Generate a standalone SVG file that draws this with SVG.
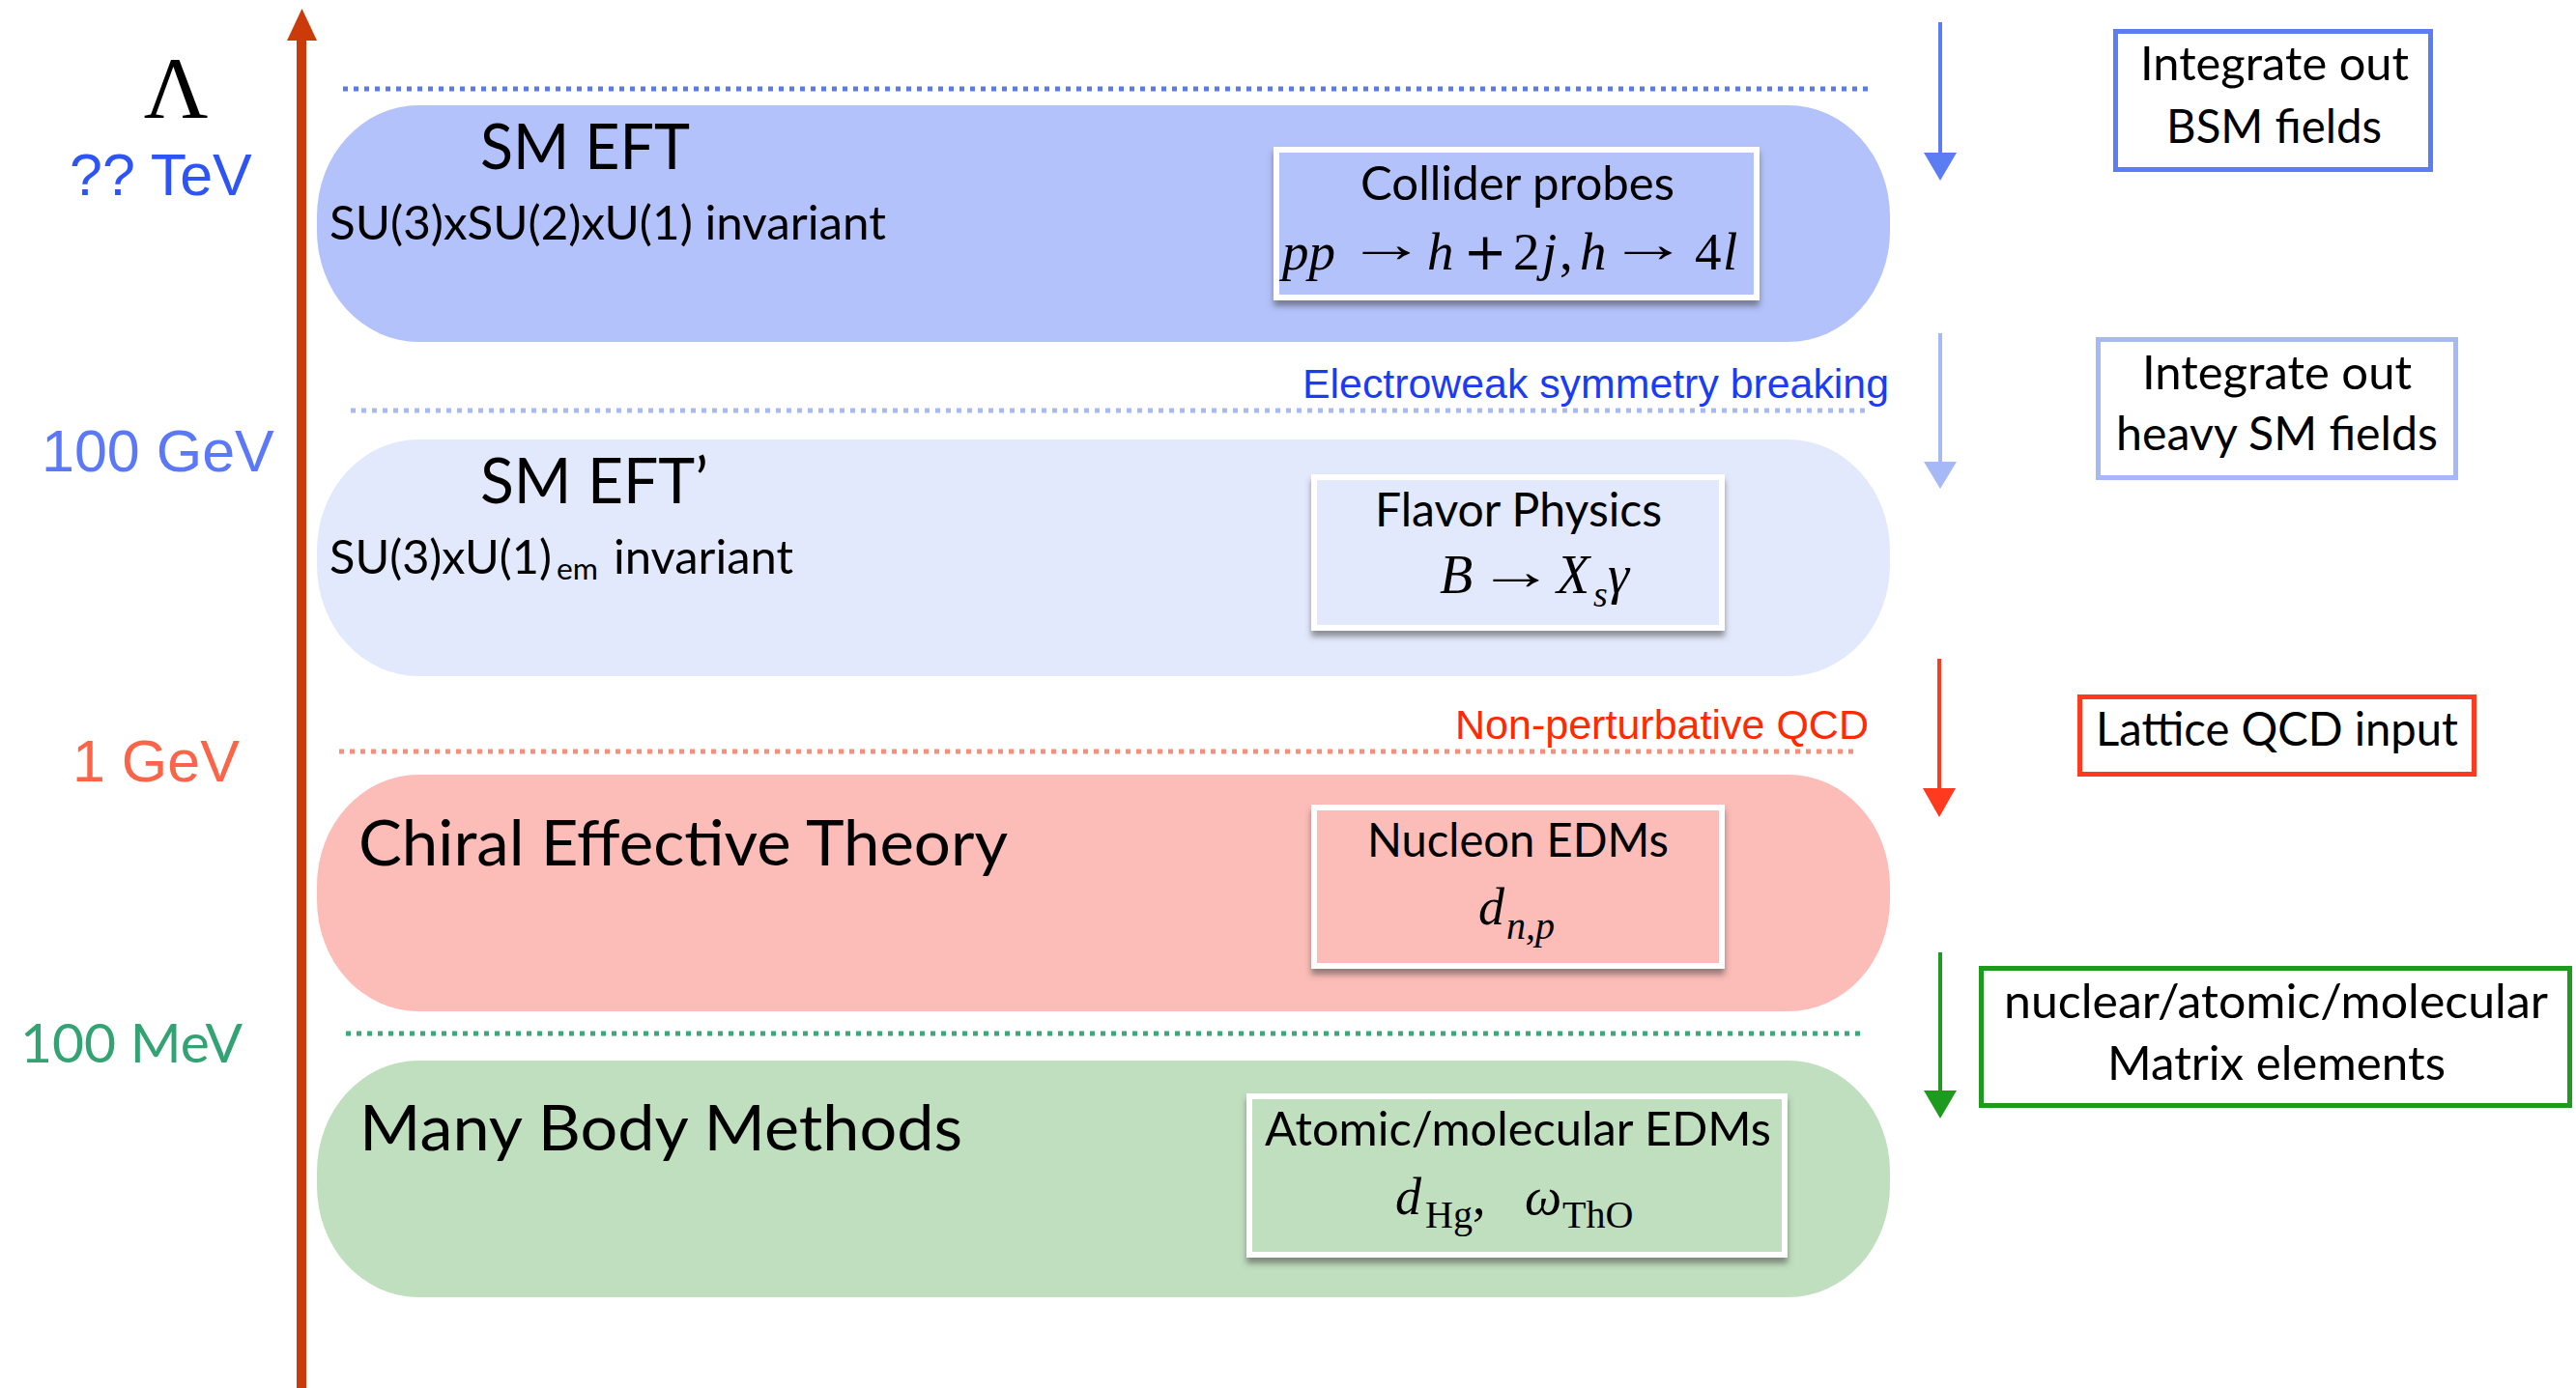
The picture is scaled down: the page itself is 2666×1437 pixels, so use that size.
<svg xmlns="http://www.w3.org/2000/svg" width="2666" height="1437" viewBox="0 0 2666 1437">
<defs>
<style>
.cal{font-family:Lato,"Open Sans",sans-serif;fill:#000;}
.t1{font-size:65px;}
.t2{font-size:47.5px;}
.hel{font-family:"Liberation Sans",Arial,sans-serif;}
.math{font-family:"Liberation Serif","Times New Roman",serif;fill:#000;}
.op{font-family:"DejaVu Sans",sans-serif;font-style:normal;}
.arr{font-style:normal;font-size:55px;}
.it{font-style:italic;}
.dot{fill:none;stroke-width:5;stroke-dasharray:5 6;}
.inner{stroke:#fff;stroke-width:6;}
.rbox{fill:#fff;stroke-width:5;}
</style>
<filter id="sh" x="-5%" y="-10%" width="110%" height="130%">
<feDropShadow dx="0" dy="6" stdDeviation="3" flood-color="#444" flood-opacity="0.55"/>
</filter>
</defs>
<rect x="0" y="0" width="2666" height="1437" fill="#fff"/>

<g id="axis">
<rect x="307" y="40" width="10" height="1397" fill="#cc3a0a"/>
<polygon points="297,42 328,42 312.5,9" fill="#cc3a0a"/>
<text x="182" y="122" class="math" font-size="92" text-anchor="middle">Λ</text>
<text x="72" y="202" class="hel" font-size="61" fill="#2f54f5">?? TeV</text>
<text x="43" y="488" class="hel" font-size="61" fill="#5a78f8">100 GeV</text>
<text x="75" y="809" class="hel" font-size="61" fill="#fa6448">1 GeV</text>
<text x="21" y="1100" class="cal" font-size="55.5" style="fill:#33a373" textLength="230" lengthAdjust="spacingAndGlyphs">100 MeV</text>
</g>

<g id="scale-lines">
<line x1="355" y1="92" x2="1938" y2="92" class="dot" stroke="#5a7ae6"/>
<line x1="363" y1="425" x2="1934" y2="425" class="dot" stroke="#a9b9f3"/>
<line x1="351" y1="778" x2="1920" y2="778" class="dot" stroke="#f5907a"/>
<line x1="358" y1="1070" x2="1926" y2="1070" class="dot" stroke="#3aaa78"/>
<text x="1348" y="412" class="hel" font-size="43" fill="#1a3cf5" textLength="607" lengthAdjust="spacingAndGlyphs">Electroweak symmetry breaking</text>
<text x="1506" y="765" class="hel" font-size="43" fill="#ff2a00" textLength="428" lengthAdjust="spacingAndGlyphs">Non-perturbative QCD</text>
</g>

<g id="sm-eft">
<rect x="328" y="109" width="1628" height="245" rx="105" ry="115" fill="#b4c2fb"/>
<text x="497" y="175" class="cal t1" textLength="217" lengthAdjust="spacingAndGlyphs">SM EFT</text>
<text x="341" y="248" class="cal t2" textLength="576" lengthAdjust="spacingAndGlyphs">SU(3)xSU(2)xU(1) invariant</text>
<g id="collider">
<rect x="1321" y="155" width="497" height="153" class="inner" fill="#b4c2fb" filter="url(#sh)"/>
<text x="1408" y="207" class="cal t2" textLength="325" lengthAdjust="spacingAndGlyphs">Collider probes</text>
<g class="math" font-size="55">
<text x="1327" y="279" class="it">pp</text>
<text transform="translate(1435,271) scale(1.5,1)" class="arr" text-anchor="middle">→</text>
<text x="1477" y="279" class="it">h</text>
<text x="1537" y="279" class="op" font-size="54" text-anchor="middle">+</text>
<text x="1566" y="279">2</text>
<text x="1596" y="279" class="it">j</text>
<text x="1614" y="279">,</text>
<text x="1635" y="279" class="it">h</text>
<text transform="translate(1706,271) scale(1.5,1)" class="arr" text-anchor="middle">→</text>
<text x="1754" y="279">4</text>
<text x="1783" y="279" class="it">l</text>
</g>
</g>
</g>

<g id="sm-eft-prime">
<rect x="328" y="455" width="1628" height="245" rx="105" ry="115" fill="#e3e9fc"/>
<text x="497" y="521" class="cal t1" textLength="236" lengthAdjust="spacingAndGlyphs">SM EFT’</text>
<text x="341" y="594" class="cal t2" textLength="230" lengthAdjust="spacingAndGlyphs">SU(3)xU(1)</text>
<text x="576" y="600" class="cal" font-size="31" textLength="43" lengthAdjust="spacingAndGlyphs">em</text>
<text x="635" y="594" class="cal t2" textLength="186" lengthAdjust="spacingAndGlyphs">invariant</text>
<g id="flavor">
<rect x="1360" y="494" width="422" height="156" class="inner" fill="#e3e9fc" filter="url(#sh)"/>
<text x="1423" y="545" class="cal t2" textLength="297" lengthAdjust="spacingAndGlyphs">Flavor Physics</text>
<g class="math" font-size="56">
<text x="1490" y="614" class="it">B</text>
<text transform="translate(1569,610) scale(1.45,1)" class="arr" text-anchor="middle">→</text>
<text x="1611" y="614" class="it">X</text>
<text x="1649" y="628" class="it" font-size="38">s</text>
<text x="1664" y="614" class="it">γ</text>
</g>
</g>
</g>

<g id="chiral">
<rect x="328" y="802" width="1628" height="245" rx="105" ry="115" fill="#fcbcb7"/>
<text x="371" y="896" class="cal t1" textLength="672" lengthAdjust="spacingAndGlyphs">Chiral Effective Theory</text>
<g id="nucleon">
<rect x="1360" y="836" width="422" height="164" class="inner" fill="#fcbcb7" filter="url(#sh)"/>
<text x="1415" y="887" class="cal t2" textLength="312" lengthAdjust="spacingAndGlyphs">Nucleon EDMs</text>
<g class="math">
<text x="1530" y="957" class="it" font-size="54">d</text>
<text x="1559" y="972" class="it" font-size="40">n,p</text>
</g>
</g>
</g>

<g id="many-body">
<rect x="328" y="1098" width="1628" height="245" rx="105" ry="115" fill="#c0dfbe"/>
<text x="372" y="1191" class="cal t1" textLength="624" lengthAdjust="spacingAndGlyphs">Many Body Methods</text>
<g id="atomic">
<rect x="1293" y="1135" width="554" height="164" class="inner" fill="#c0dfbe" filter="url(#sh)"/>
<text x="1309" y="1186" class="cal t2" textLength="524" lengthAdjust="spacingAndGlyphs">Atomic/molecular EDMs</text>
<g class="math">
<text x="1444" y="1257" class="it" font-size="54">d</text>
<text x="1475" y="1271" font-size="40">Hg</text>
<text x="1524" y="1257" font-size="54">,</text>
<text x="1578" y="1257" class="it" font-size="54">ω</text>
<text x="1617" y="1271" font-size="40">ThO</text>
</g>
</g>
</g>

<g id="connectors">
<line x1="2008" y1="23" x2="2008" y2="162" stroke="#5b7cf3" stroke-width="4"/>
<polygon points="1991,158 2025,158 2008,187" fill="#5b7cf3"/>
<line x1="2008" y1="345" x2="2008" y2="482" stroke="#a6b8f6" stroke-width="4"/>
<polygon points="1991,478 2025,478 2008,506" fill="#a6b8f6"/>
<line x1="2007" y1="682" x2="2007" y2="820" stroke="#ff3a1e" stroke-width="4"/>
<polygon points="1990,816 2024,816 2007,846" fill="#ff3a1e"/>
<line x1="2008" y1="986" x2="2008" y2="1133" stroke="#1e9a1e" stroke-width="4"/>
<polygon points="1991,1129 2025,1129 2008,1158" fill="#1e9a1e"/>
</g>

<g id="integrate-bsm">
<rect x="2189.5" y="32.5" width="326" height="143" class="rbox" stroke="#5b7cf3"/>
<text x="2215" y="83" class="cal t2" textLength="278" lengthAdjust="spacingAndGlyphs">Integrate out</text>
<text x="2242" y="148" class="cal t2" textLength="223" lengthAdjust="spacingAndGlyphs">BSM fields</text>
</g>
<g id="integrate-heavy">
<rect x="2171.5" y="351.5" width="370" height="143" class="rbox" stroke="#a6b8f6"/>
<text x="2217" y="403" class="cal t2" textLength="279" lengthAdjust="spacingAndGlyphs">Integrate out</text>
<text x="2190" y="466" class="cal t2" textLength="333" lengthAdjust="spacingAndGlyphs">heavy SM fields</text>
</g>
<g id="lattice">
<rect x="2152.5" y="721.5" width="408" height="80" class="rbox" stroke="#ff3a1e"/>
<text x="2169" y="772" class="cal t2" textLength="375" lengthAdjust="spacingAndGlyphs">Lattice QCD input</text>
</g>
<g id="matrix">
<rect x="2050.5" y="1002.5" width="609" height="142" class="rbox" stroke="#1e9a1e"/>
<text x="2074" y="1054" class="cal t2" textLength="563" lengthAdjust="spacingAndGlyphs">nuclear/atomic/molecular</text>
<text x="2181" y="1118" class="cal t2" textLength="350" lengthAdjust="spacingAndGlyphs">Matrix elements</text>
</g>
</svg>
